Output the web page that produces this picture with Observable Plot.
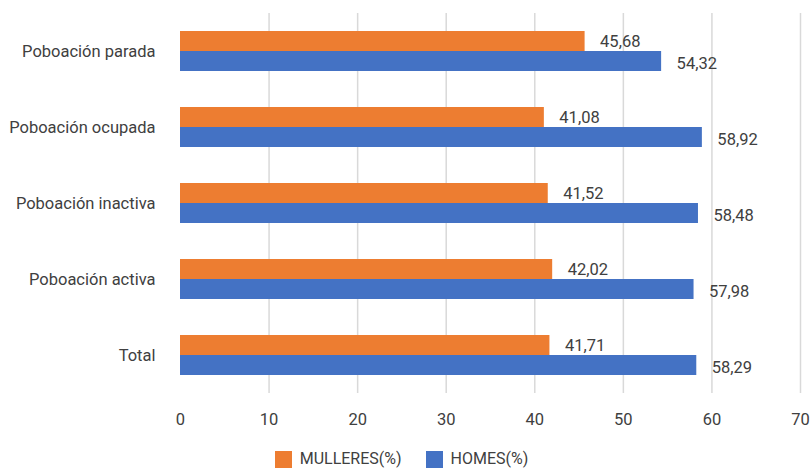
<!DOCTYPE html>
<html>
<head>
<meta charset="utf-8">
<script src="https://cdn.jsdelivr.net/npm/d3@7"></script>
<script src="https://cdn.jsdelivr.net/npm/@observablehq/plot@0.6"></script>
<style>
  body { margin: 0; background: #fff; font-family: Roboto, sans-serif; }
  #legend { display: flex; justify-content: center; align-items: center; margin-top: 12px; font-size: 16px; line-height: 18px; color: #404040; padding-right: 8px; }
  .sw { display: inline-block; width: 17px; height: 17px; margin-right: 8px; }
  .item { display: flex; align-items: center; margin: 0 12px; }
</style>
</head>
<body>
<div id="chart"></div>
<div id="legend"></div>
<script>
const categories = ["Poboación parada", "Poboación ocupada", "Poboación inactiva", "Poboación activa", "Total"];
const mulleres = [45.68, 41.08, 41.52, 42.02, 41.71];
const homes = [54.32, 58.92, 58.48, 57.98, 58.29];
const xTicks = [0, 10, 20, 30, 40, 50, 60, 70];
const seriesNames = ["MULLERES(%)", "HOMES(%)"];
const seriesColors = ["#ED7D31", "#4472C4"];

const dataM = categories.map((c, i) => ({category: c, value: mulleres[i]}));
const dataH = categories.map((c, i) => ({category: c, value: homes[i]}));
const fmt = v => v.toFixed(2).replace(".", ",");

const chart = Plot.plot({
  width: 811,
  height: 438,
  marginLeft: 180,
  marginRight: 11,
  marginTop: 13,
  marginBottom: 45,
  style: {fontFamily: "Roboto, sans-serif", fontSize: "16.5px", color: "#404040", background: "#fff"},
  x: {domain: [0, 70], ticks: xTicks, tickSize: 0, tickPadding: 20, label: null, tickFormat: d => String(d)},
  y: {domain: categories, paddingInner: 0.474, paddingOuter: 0.224, tickSize: 0, tickPadding: 25, label: null},
  marks: [
    Plot.ruleX(xTicks.filter(d => d > 0), {stroke: "#d9d9d9", strokeWidth: 1.5}),
    Plot.barX(dataM, {x: "value", y: "category", fill: seriesColors[0], insetBottom: 20}),
    Plot.barX(dataH, {x: "value", y: "category", fill: seriesColors[1], insetTop: 20}),
    Plot.text(dataM, {x: "value", y: "category", text: d => fmt(d.value), textAnchor: "start", dx: 15, dy: -10, fill: "#404040", fontSize: 16.5}),
    Plot.text(dataH, {x: "value", y: "category", text: d => fmt(d.value), textAnchor: "start", dx: 15, dy: 12, fill: "#404040", fontSize: 16.5})
  ]
});
document.getElementById("chart").appendChild(chart);

const legend = document.getElementById("legend");
seriesNames.forEach((n, i) => {
  const it = document.createElement("div");
  it.className = "item";
  it.innerHTML = `<span class="sw" style="background:${seriesColors[i]}"></span><span>${n}</span>`;
  legend.appendChild(it);
});
</script>
</body>
</html>
